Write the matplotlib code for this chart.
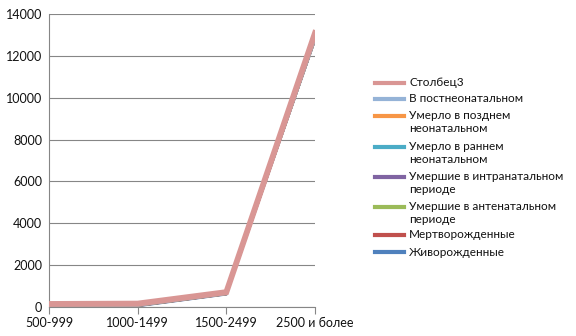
import matplotlib.pyplot as plt
import numpy as np
from matplotlib.lines import Line2D

plt.rcParams['font.family'] = ['Lato', 'DejaVu Sans']

# categories (birth weight, g)
categories = ['500-999', '1000-1499', '1500-2499', '2500 и более']

# series values (stacked line chart, bottom to top)
series_names = [
    'Живорожденные',
    'Мертворожденные',
    'Умершие в антенатальном\nпериоде',
    'Умершие в интранатальном\nпериоде',
    'Умерло в раннем\nнеонатальном',
    'Умерло в позднем\nнеонатальном',
    'В постнеонатальном',
    'Столбец3',
]
zhivo = [20, 40, 600, 12750]
mertvo = [25, 12, 12, 15]
antenat = [18, 8, 8, 10]
intranat = [5, 3, 3, 4]
rannij = [12, 5, 4, 5]
pozdnij = [3, 2, 1, 2]
postneo = [2, 2, 2, 3]
stolbec3 = [60, 90, 80, 300]

series = [zhivo, mertvo, antenat, intranat, rannij, pozdnij, postneo, stolbec3]
colors = ['#4F81BD', '#C0504D', '#9BBB59', '#8064A2',
          '#4BACC6', '#F79646', '#95B3D7', '#D99694']
widths = [1.6, 1.6, 1.6, 1.6, 1.6, 1.6, 1.6, 4.2]

fig = plt.figure(figsize=(5.76, 3.36), dpi=100)
ax = fig.add_axes([49 / 576, 1 - 307 / 336, (315 - 49) / 576, (307 - 14) / 336])

x = np.arange(len(categories))
cum = np.zeros(len(categories))
for vals, c, w in zip(series, colors, widths):
    cum = cum + np.array(vals)
    ax.plot(x, cum, color=c, lw=w, solid_joinstyle='miter', zorder=3)

ax.set_xlim(0, len(categories) - 1)
ax.set_ylim(0, 14000)
ax.set_yticks(np.arange(0, 14001, 2000))
ax.set_xticks(x)
ax.set_xticklabels(categories)
ax.grid(axis='y', color='#868686', lw=0.8)
ax.set_axisbelow(True)
for s in ['top', 'right']:
    ax.spines[s].set_visible(False)
for s in ['left', 'bottom']:
    ax.spines[s].set_color('#868686')
    ax.spines[s].set_linewidth(0.8)
ax.tick_params(axis='y', length=0, labelsize=9, pad=5, colors='#111111')
ax.tick_params(axis='x', length=5, width=0.8, color='#868686',
               labelsize=9, pad=2, labelcolor='#111111')

# legend drawn by hand (first line of label aligned with handle)
legend_y = [83, 99, 116, 147, 177, 207, 235, 252]
for name, c, yy in zip(series_names[::-1], colors[::-1], legend_y):
    fy = 1 - yy / 336
    fig.add_artist(Line2D([375 / 576, 404 / 576], [fy, fy], color=c, lw=3))
    fig.text(409 / 576, fy + 5.5 / 336, name, fontsize=8.5, va='top',
             ha='left', color='#111111', linespacing=1.15)

fig.savefig('out.png', dpi=100)
